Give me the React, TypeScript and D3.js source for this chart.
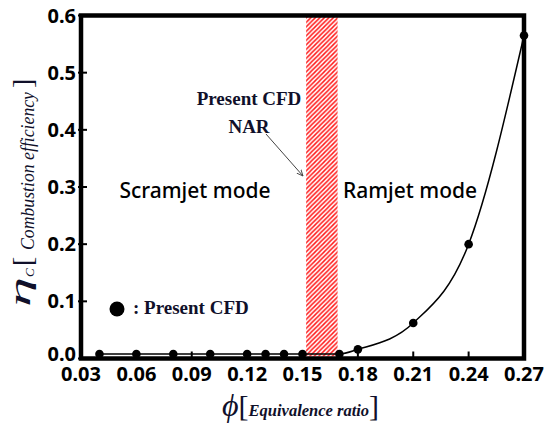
import React from "react";
import * as d3 from "d3";

// Equivalence ratio (phi) and combustion efficiency from the CFD runs
const phiValues = [0.04, 0.06, 0.08, 0.1, 0.12, 0.13, 0.14, 0.15, 0.17, 0.18, 0.21, 0.24, 0.27];
const etaValues = [0.008, 0.008, 0.008, 0.008, 0.008, 0.008, 0.008, 0.008, 0.008, 0.016, 0.062, 0.2, 0.565];

const xTicks = [0.03, 0.06, 0.09, 0.12, 0.15, 0.18, 0.21, 0.24, 0.27];
const yTicks = [0.0, 0.1, 0.2, 0.3, 0.4, 0.5, 0.6];

// Region between the two operating modes
const narRange = [0.152, 0.169];

const W = 545;
const H = 423;
const left = 81;
const right = 524;
const top = 15.5;
const bottom = 358.5;

export default function App() {
  const x = d3.scaleLinear().domain([0.03, 0.27]).range([left, right]);
  const y = d3.scaleLinear().domain([0, 0.6]).range([bottom, top]);

  const line = d3
    .line<number>()
    .x((_, i) => x(phiValues[i]))
    .y((d) => y(d))
    .curve(d3.curveMonotoneX);

  const sans = "'Noto Sans', 'DejaVu Sans', sans-serif";
  const serif = "'Liberation Serif', 'DejaVu Serif', serif";
  const ink = "#10102a";

  return (
    <svg width={W} height={H} style={{ position: "absolute", left: 0, top: 0, background: "#fff" }}>
      <defs>
        <pattern id="hatch" width={4.5} height={4.5} patternUnits="userSpaceOnUse">
          <path
            d="M0,4.5 L4.5,0 M-1,1 L1,-1 M3.5,5.5 L5.5,3.5"
            stroke="#ff1a1a"
            strokeWidth={1.5}
          />
        </pattern>
        <marker id="arrow" viewBox="0 0 10 10" refX={9} refY={5} markerWidth={7} markerHeight={7} orient="auto">
          <path d="M0,1 L9,5 L0,9" fill="none" stroke="#444" strokeWidth={1.3} />
        </marker>
      </defs>

      {/* NAR band */}
      <rect
        x={x(narRange[0])}
        y={top}
        width={x(narRange[1]) - x(narRange[0])}
        height={bottom - top - 2}
        fill="url(#hatch)"
      />

      {/* ticks (inward) */}
      {xTicks.map((t) => (
        <line key={"xt" + t} x1={x(t)} x2={x(t)} y1={bottom} y2={bottom - 7} stroke="#000" strokeWidth={2} />
      ))}
      {yTicks.map((t) => (
        <line key={"yt" + t} x1={left - 3} x2={left + 6} y1={y(t)} y2={y(t)} stroke="#000" strokeWidth={2} />
      ))}

      {/* frame */}
      <rect x={left} y={top} width={right - left} height={bottom - top} fill="none" stroke="#000" strokeWidth={4.5} />

      {/* tick labels */}
      {xTicks.map((t) => (
        <text
          key={"xl" + t}
          x={x(t)}
          y={381}
          textAnchor="middle"
          fontFamily={sans}
          fontWeight={700}
          fontSize={20}
          fill="#000"
        >
          {d3.format(".2f")(t)}
        </text>
      ))}
      {yTicks.map((t) => (
        <text
          key={"yl" + t}
          x={76}
          y={y(t) - (t === 0 ? 5 : 0)}
          dy="0.35em"
          textAnchor="end"
          fontFamily={sans}
          fontWeight={700}
          fontSize={20}
          fill="#000"
        >
          {d3.format(".1f")(t)}
        </text>
      ))}

      {/* data */}
      <path d={line(etaValues) || ""} fill="none" stroke="#000" strokeWidth={1.5} />
      {etaValues.map((v, i) => (
        <circle key={"p" + i} cx={x(phiValues[i])} cy={y(v)} r={4.3} fill="#000" />
      ))}

      {/* mode labels */}
      <text x={195} y={198} textAnchor="middle" fontFamily={sans} fontWeight={500} fontSize={21} fill="#000">
        Scramjet mode
      </text>
      <text x={410} y={198} textAnchor="middle" fontFamily={sans} fontWeight={500} fontSize={21} fill="#000">
        Ramjet mode
      </text>

      {/* NAR annotation */}
      <text x={249} y={105} textAnchor="middle" fontFamily={serif} fontWeight={700} fontSize={19} fill={ink}>
        Present CFD
      </text>
      <text x={249} y={133} textAnchor="middle" fontFamily={serif} fontWeight={700} fontSize={19} fill={ink}>
        NAR
      </text>
      <line x1={266} y1={134} x2={303} y2={176} stroke="#444" strokeWidth={1} markerEnd="url(#arrow)" />

      {/* legend */}
      <circle cx={117} cy={309} r={7.5} fill="#000" />
      <text x={133} y={313.5} fontFamily={serif} fontWeight={700} fontSize={19} fill={ink}>
        : Present CFD
      </text>

      {/* x axis title */}
      <text x={222} y={416} fontFamily={serif} fill={ink}>
        <tspan fontSize={32} fontStyle="italic">ϕ</tspan>
        <tspan fontSize={30}>[</tspan>
        <tspan fontSize={16.5} fontStyle="italic" fontWeight={700}>Equivalence ratio</tspan>
        <tspan fontSize={30}>]</tspan>
      </text>

      {/* y axis title, laid out along the rotated axis */}
      <g transform="rotate(-90)" fontFamily={serif} fill={ink}>
        <text x={-307} y={30} fontSize={30} fontStyle="italic" textLength={30} lengthAdjust="spacingAndGlyphs">
          η
        </text>
        <text x={-277} y={34} fontSize={13} fontStyle="italic">
          C
        </text>
        <text x={-266} y={32} fontSize={28}>
          [
        </text>
        <text x={-250} y={34} fontSize={19} fontStyle="italic" textLength={158} lengthAdjust="spacingAndGlyphs">
          Combustion efficiency
        </text>
        <text x={-88} y={32} fontSize={28}>
          ]
        </text>
      </g>
    </svg>
  );
}
